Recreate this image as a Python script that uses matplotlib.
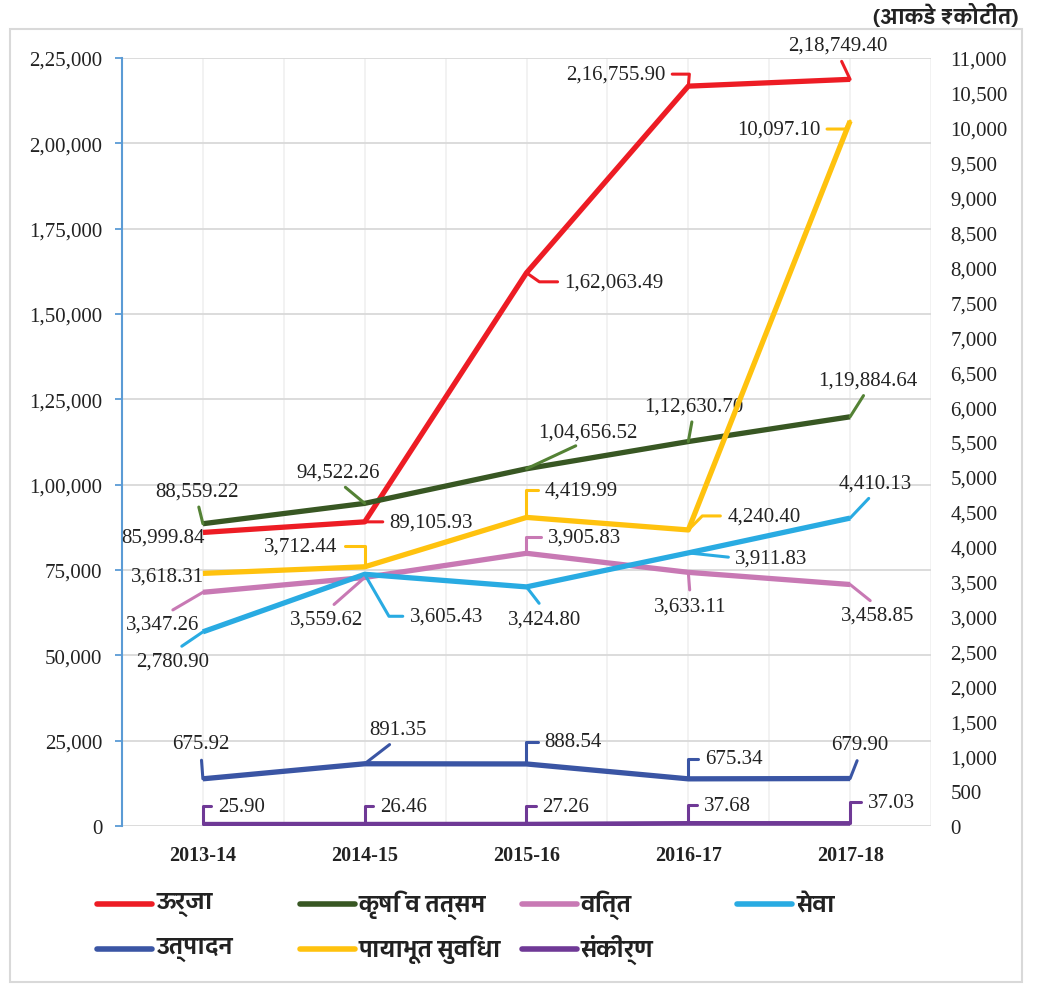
import matplotlib
matplotlib.use("Agg")
import matplotlib.pyplot as plt
from matplotlib import font_manager, ft2font
from matplotlib.lines import Line2D
from matplotlib.patches import Rectangle

# data (आकडे ₹ कोटीत)
years = ["2013-14", "2014-15", "2015-16", "2016-17", "2017-18"]

urja = [85999.84, 89105.93, 162063.49, 216755.90, 218749.40]
krushi = [88559.22, 94522.26, 104656.52, 112630.70, 119884.64]
vitta = [3347.26, 3559.62, 3905.83, 3633.11, 3458.85]
seva = [2780.90, 3605.43, 3424.80, 3911.83, 4410.13]
utpadan = [675.92, 891.35, 888.54, 675.34, 679.90]
payabhut = [3618.31, 3712.44, 4419.99, 4240.40, 10097.10]
sankirna = [25.90, 26.46, 27.26, 37.68, 37.03]

left_ticks = list(range(0, 225001, 25000))
right_ticks = list(range(0, 11001, 500))


def find_devanagari_font():
    found = []
    for path in sorted(font_manager.findSystemFonts()):
        try:
            f = ft2font.FT2Font(path)
            if 0x0915 in f.get_charmap():
                name = font_manager.FontProperties(fname=path).get_name()
                found.append((path, name))
        except Exception:
            continue
    if not found:
        return None, None

    def score(item):
        path, name = item
        n = (name + " " + path).lower()
        s = 0
        if "mono" in n or "code" in n:
            s += 100
        if "bold" in path.lower() or "italic" in path.lower() or "oblique" in path.lower():
            s += 50
        if "devanagari" in n and "sans" in n:
            s -= 40
        elif "lohit" in n:
            s -= 30
        elif "freesans" in n:
            s -= 20
        elif "sans" in n:
            s -= 10
        return s

    found.sort(key=score)
    path, name = found[0]
    font_manager.fontManager.addfont(path)
    bold = None
    for p, n in found:
        if n == name and "bold" in p.lower() and "italic" not in p.lower() \
                and "oblique" not in p.lower():
            font_manager.fontManager.addfont(p)
            bold = p
            break
    return name, bold


deva, deva_bold = find_devanagari_font()
deva_family = [deva, "DejaVu Sans"] if deva else ["DejaVu Sans"]
legend_weight = "bold" if deva_bold else "normal"
num_family = ["Liberation Serif", "DejaVu Serif"]


def inr(v, dec=2):
    s = f"{v:.{dec}f}"
    if dec:
        ip, fp = s.split(".")
    else:
        ip, fp = s, ""
    if len(ip) > 3:
        head, tail = ip[:-3], ip[-3:]
        groups = []
        while len(head) > 2:
            groups.insert(0, head[-2:])
            head = head[:-2]
        if head:
            groups.insert(0, head)
        ip = ",".join(groups + [tail])
    return ip + ("." + fp if fp else "")


W, H = 1043, 987
fig = plt.figure(figsize=(W / 100, H / 100), dpi=100)
fig.add_artist(Rectangle((10 / W, 1 - 983 / H), 1012 / W, 953 / H, transform=fig.transFigure,
                         fill=False, edgecolor="#d9d9d9", lw=1.5))

ax = fig.add_axes([122 / W, 1 - 827 / H, 809 / W, 768 / H])
ax2 = ax.twinx()
x = list(range(len(years)))

# (name, values, axis, colour, leader colour, linewidth, label offsets)
# offsets: (dx, dy, ha, leader) in pixels; leader None / 'line' / angle for elbow
series = [
    ("ऊर्जा", urja, ax, "#ed1c24", "#ed1c24", 3.8,
     [(2, -5, "right", None), (25, 0, "left", "line"), (38, -9, "left", -35),
      (-23, 12, "right", 85), (-12, 34, "center", "line")]),
    ("कृषि व तत्सम", krushi, ax, "#385723", "#548235", 3.8,
     [(-6, 33, "center", "line"), (-27, 31, "center", "line"), (61, 37, "center", "line"),
      (5, 36, "center", "line"), (18, 37, "center", "line")]),
    ("वित्त", vitta, ax2, "#c879b4", "#c879b4", 3.8,
     [(-40, -32, "center", "line"), (-38, -42, "center", "line"), (21, 16, "left", 90),
      (2, -34, "center", "line"), (28, -31, "center", "line")]),
    ("सेवा", seva, ax2, "#29abe2", "#29abe2", 3.8,
     [(-30, -29, "center", "line"), (45, -42, "left", -60), (18, -32, "center", "line"),
      (47, -5, "left", "line"), (25, 35, "center", "line")]),
    ("उत्पादन", utpadan, ax2, "#3a55a4", "#3a55a4", 3.8,
     [(-2, 35, "center", "line"), (33, 34, "center", "line"), (18, 22, "left", 90),
      (17, 20, "left", 90), (10, 34, "center", "line")]),
    ("पायाभूत सुविधा", payabhut, ax2, "#ffc20e", "#ffc20e", 3.8,
     [(-35, -3, "center", None), (-27, 21, "right", 90), (18, 27, "left", 90),
      (39, 14, "left", 45), (-30, -8, "right", 60)]),
    ("संकीर्ण", sankirna, ax2, "#6f3996", "#6f3996", 3.4,
     [(15, 18, "left", 90), (15, 18, "left", 90), (16, 18, "left", 90),
      (16, 18, "left", 90), (18, 21, "left", 90)]),
]

for name, vals, a, col, lcol, lw, offs in series:
    a.plot(x, vals, color=col, lw=lw, solid_capstyle="butt", zorder=3)
    for xi, v, (dx, dy, ha, lead) in zip(x, vals, offs):
        if ha == "left":
            rel = (0, 0.5)
        elif ha == "right":
            rel = (1, 0.5)
        else:
            rel = (0.5, 0.05) if dy > 0 else (0.5, 0.95)
        arrow = None
        if lead == "line":
            arrow = dict(arrowstyle="-", color=lcol, lw=2.2, shrinkA=3, shrinkB=0,
                         relpos=rel, connectionstyle="arc3")
        elif lead is not None:
            arrow = dict(arrowstyle="-", color=lcol, lw=2.2, shrinkA=3, shrinkB=0,
                         relpos=rel, connectionstyle=f"angle,angleA=0,angleB={lead},rad=0")
        a.annotate(inr(v), xy=(xi, v), xytext=(dx, dy), textcoords="offset pixels",
                   ha=ha, va="center", fontsize=15, family=num_family, color="#222222",
                   arrowprops=arrow, zorder=5, annotation_clip=False)

ax.set_xlim(-0.5, 4.5)
ax.set_ylim(0, 225000)
ax2.set_ylim(0, 11000)
ax.set_yticks(left_ticks)
ax.set_yticklabels([inr(t, 0) for t in left_ticks], family=num_family, fontsize=15)
ax2.set_yticks(right_ticks)
ax2.set_yticklabels([inr(t, 0) for t in right_ticks], family=num_family, fontsize=15)
ax.set_xticks(x)
ax.set_xticklabels(years, family=num_family, fontsize=14.5, fontweight="bold")

ax.set_xticks([i + 0.5 for i in range(-1, 5)], minor=True)
ax.grid(axis="y", color="#d9d9d9", lw=1.3, zorder=0)
ax.grid(axis="x", which="both", color="#f0f0f0", lw=1.2, zorder=0)
ax.set_axisbelow(True)

for s in ["top", "right", "bottom"]:
    ax.spines[s].set_visible(False)
    ax2.spines[s].set_visible(False)
ax2.spines["left"].set_visible(False)
ax.spines["left"].set_color("#5b9bd5")
ax.spines["left"].set_linewidth(1.5)
ax.tick_params(axis="y", which="major", length=5, color="#5b9bd5", width=1.3, pad=9,
               labelcolor="#222222")
ax.tick_params(axis="x", which="both", length=0, pad=14, labelcolor="#222222")
ax2.tick_params(axis="y", length=0, pad=14, labelcolor="#222222")

fig.text(1018 / W, 1 - 16 / H, "(आकडे ₹कोटीत)", ha="right", va="center",
         fontsize=15, family=deva_family, fontweight=legend_weight, color="#222222")

# legend, laid out in two rows like the source
leg_pos = [(97, 905), (300, 905), (522, 905), (737, 905),
           (97, 950), (300, 950), (522, 950)]
for (lx, ly), s in zip(leg_pos, series):
    name, col = s[0], s[3]
    fig.add_artist(Line2D([lx / W, (lx + 55) / W], [1 - ly / H, 1 - ly / H],
                          transform=fig.transFigure, color=col, lw=4,
                          solid_capstyle="round"))
    fig.text((lx + 59) / W, 1 - ly / H, name, ha="left", va="center", fontsize=16.5,
             family=deva_family, fontweight=legend_weight, color="#222222")

fig.savefig("out.png", dpi=100)
